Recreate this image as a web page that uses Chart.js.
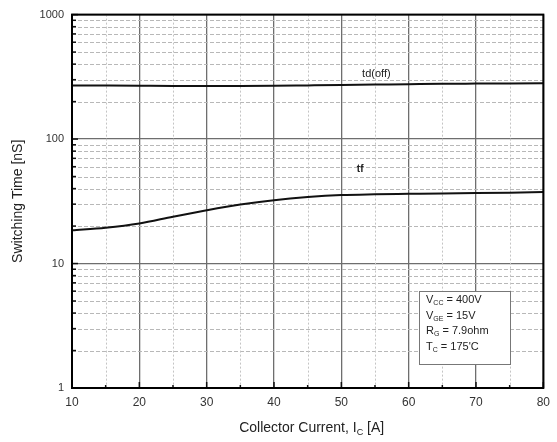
<!DOCTYPE html>
<html>
<head>
<meta charset="utf-8">
<script src="https://cdn.jsdelivr.net/npm/chart.js@4/dist/chart.umd.min.js"></script>
<style>
  html, body { margin: 0; padding: 0; background: #fff; }
  #wrap { width: 557px; height: 442px; position: relative; }
</style>
</head>
<body>
<div id="wrap"><canvas id="chart"></canvas></div>
<script>
// data
const current = [10, 15, 20, 25, 30, 35, 40, 45, 50, 55, 60, 65, 70, 75, 80];
const tdOff = [270, 269, 268, 267, 267, 267, 268, 270, 272, 274, 276, 278, 279, 280, 281];
const tf = [18.5, 19.4, 21.0, 23.8, 26.8, 29.8, 32.3, 34.2, 35.5, 36.0, 36.3, 36.6, 36.8, 37.1, 37.5];
const xTicks = [10, 15, 20, 25, 30, 35, 40, 45, 50, 55, 60, 65, 70, 75, 80];
const yTicks = [1, 2, 3, 4, 5, 6, 7, 8, 9, 10, 20, 30, 40, 50, 60, 70, 80, 90,
  100, 200, 300, 400, 500, 600, 700, 800, 900, 1000];
const yDecades = [1, 10, 100, 1000];
const conditions = [
  ["V", "CC", " = 400V"],
  ["V", "GE", " = 15V"],
  ["R", "G", " = 7.9ohm"],
  ["T", "C", " = 175'C"]
];

const FONT = "'Liberation Sans', Arial, sans-serif";

const isMajorX = (v) => v % 10 === 0;
const isDecade = (v) => yDecades.includes(v);

// draws text with a subscript part, returns end x
function subText(ctx, x, y, main, sub, rest, size) {
  ctx.font = size + "px " + FONT;
  ctx.fillText(main, x, y);
  x += ctx.measureText(main).width;
  ctx.font = Math.round(size * 0.62) + "px " + FONT;
  ctx.fillText(sub, x, y + size * 0.3);
  x += ctx.measureText(sub).width;
  ctx.font = size + "px " + FONT;
  ctx.fillText(rest, x, y);
  return x + ctx.measureText(rest).width;
}

const decorPlugin = {
  id: "decor",
  beforeDatasetsDraw(chart) {
    // dashed minor grid
    const { ctx, chartArea: a, scales } = chart;
    ctx.save();
    ctx.lineWidth = 1;
    ctx.strokeStyle = "#b8b8b8";
    ctx.setLineDash([4, 2]);
    yTicks.filter((v) => !isDecade(v)).forEach((v) => {
      const py = Math.round(scales.y.getPixelForValue(v)) + 0.5;
      ctx.beginPath();
      ctx.moveTo(a.left, py);
      ctx.lineTo(a.right, py);
      ctx.stroke();
    });
    ctx.strokeStyle = "#c4c4c4";
    ctx.setLineDash([2, 2]);
    xTicks.filter((v) => !isMajorX(v)).forEach((v) => {
      const px = Math.round(scales.x.getPixelForValue(v)) + 0.5;
      ctx.beginPath();
      ctx.moveTo(px, a.top);
      ctx.lineTo(px, a.bottom);
      ctx.stroke();
    });
    ctx.restore();
  },
  afterDraw(chart) {
    const { ctx, chartArea: a, scales } = chart;
    const xs = scales.x, ys = scales.y;
    ctx.save();

    // inward tick marks
    ctx.strokeStyle = "#111";
    ctx.lineWidth = 1.5;
    yTicks.forEach((v) => {
      const py = ys.getPixelForValue(v);
      const len = isDecade(v) ? 6 : 4;
      ctx.beginPath();
      ctx.moveTo(a.left, py);
      ctx.lineTo(a.left + len, py);
      ctx.stroke();
    });
    xTicks.forEach((v) => {
      const px = xs.getPixelForValue(v);
      const len = isMajorX(v) ? 6 : 3;
      ctx.beginPath();
      ctx.moveTo(px, a.bottom);
      ctx.lineTo(px, a.bottom - len);
      ctx.stroke();
    });

    // frame
    ctx.lineWidth = 2;
    ctx.strokeStyle = "#000";
    ctx.strokeRect(a.left, a.top, a.right - a.left, a.bottom - a.top);

    // curve labels
    ctx.fillStyle = "#222";
    ctx.textBaseline = "middle";
    ctx.textAlign = "center";
    ctx.font = "11px " + FONT;
    ctx.fillText("td(off)", xs.getPixelForValue(55.2), ys.getPixelForValue(335));
    ctx.font = "bold 10px " + FONT;
    ctx.fillText("tf", xs.getPixelForValue(52.8), ys.getPixelForValue(57));

    // conditions box
    const bx = 419, by = 291, bw = 91, bh = 73;
    ctx.fillStyle = "#fff";
    ctx.fillRect(bx, by, bw, bh);
    ctx.lineWidth = 1;
    ctx.strokeStyle = "#777";
    ctx.strokeRect(bx + 0.5, by + 0.5, bw, bh);
    ctx.fillStyle = "#222";
    ctx.textAlign = "left";
    conditions.forEach((c, i) => {
      subText(ctx, bx + 7, by + 9 + i * 15.5, c[0], c[1], c[2], 11);
    });

    // axis titles
    ctx.fillStyle = "#222";
    const t1 = "Collector Current, I";
    ctx.font = "14px " + FONT;
    const w1 = ctx.measureText(t1).width;
    ctx.font = "9px " + FONT;
    const w2 = ctx.measureText("C").width;
    ctx.font = "14px " + FONT;
    const w3 = ctx.measureText(" [A]").width;
    const startX = (a.left + a.right) / 2 - (w1 + w2 + w3) / 2 + 4;
    subText(ctx, startX, 428, t1, "C", " [A]", 14);

    ctx.save();
    ctx.translate(18, (a.top + a.bottom) / 2);
    ctx.rotate(-Math.PI / 2);
    ctx.textAlign = "center";
    ctx.font = "14px " + FONT;
    ctx.fillText("Switching Time [nS]", 0, 0);
    ctx.restore();

    ctx.restore();
  }
};

new Chart(document.getElementById("chart"), {
  type: "line",
  data: {
    datasets: [
      {
        label: "td(off)",
        data: current.map((x, i) => ({ x: x, y: tdOff[i] })),
        borderColor: "#111",
        borderWidth: 2,
        pointRadius: 0,
        cubicInterpolationMode: "monotone"
      },
      {
        label: "tf",
        data: current.map((x, i) => ({ x: x, y: tf[i] })),
        borderColor: "#111",
        borderWidth: 2,
        pointRadius: 0,
        cubicInterpolationMode: "monotone"
      }
    ]
  },
  options: {
    responsive: true,
    maintainAspectRatio: false,
    animation: false,
    layout: { padding: { left: 0, top: 14, right: 7, bottom: 0 } },
    plugins: {
      legend: { display: false },
      tooltip: { enabled: false }
    },
    scales: {
      x: {
        type: "linear",
        min: 10,
        max: 80,
        afterBuildTicks: (scale) => { scale.ticks = xTicks.map((v) => ({ value: v })); },
        afterFit: (scale) => { scale.height = 54; },
        ticks: {
          autoSkip: false,
          maxRotation: 0,
          padding: 7,
          color: "#333",
          font: { family: FONT, size: 12 },
          callback: (v) => (isMajorX(v) ? String(v) : "")
        },
        grid: {
          drawTicks: false,
          color: (c) => (c.tick && isMajorX(c.tick.value) ? "#6e6e6e" : "rgba(0,0,0,0)"),
          lineWidth: 1.3
        },
        border: { display: false }
      },
      y: {
        type: "logarithmic",
        min: 1,
        max: 1000,
        afterBuildTicks: (scale) => { scale.ticks = yTicks.map((v) => ({ value: v })); },
        afterFit: (scale) => { scale.width = 72; },
        ticks: {
          autoSkip: false,
          padding: 8,
          color: "#333",
          font: { family: FONT, size: 11 },
          callback: (v) => (isDecade(v) ? String(v) : "")
        },
        grid: {
          drawTicks: false,
          color: (c) => (c.tick && isDecade(c.tick.value) ? "#6e6e6e" : "rgba(0,0,0,0)"),
          lineWidth: 1.3
        },
        border: { display: false }
      }
    }
  },
  plugins: [decorPlugin]
});
</script>
</body>
</html>
